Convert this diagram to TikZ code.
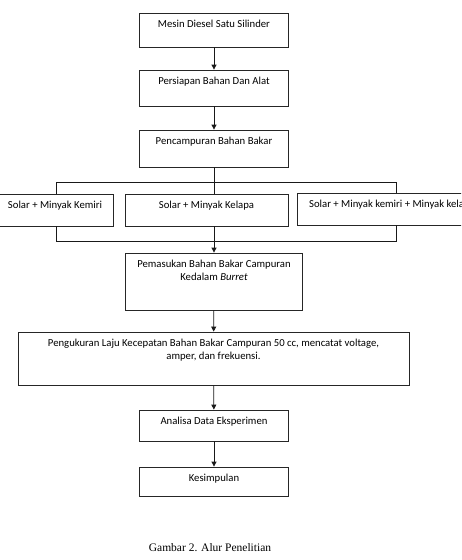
\documentclass[tikz,border=0pt]{standalone}
\usepackage{fontspec}
\setmainfont{Carlito}
\newfontfamily\capfont{Liberation Serif}
\usetikzlibrary{arrows.meta,positioning}

\tikzset{
  box/.style={draw=black!85,line width=0.8pt,rectangle,minimum height=#1,inner sep=0pt},
  txt/.style={font=\fontsize{10.7}{12.6}\selectfont,inner sep=0pt,align=center,anchor=north,yshift=-7.5pt},
  arr/.style={draw=black!90,line width=0.8pt,-{Triangle[length=5pt,width=5pt]}}
}

\begin{document}
\begin{tikzpicture}[x=1pt,y=-1pt]
      \useasboundingbox (0,0) rectangle (461,560);
      \clip (0,0) rectangle (461,560);

      \begin{scope}[every node/.style={}]
        \node[box=34,minimum width=149] (mesin) at (214,30) {};
        \node[box=36,minimum width=149] (persiapan) at (214,88) {};
        \node[box=37,minimum width=149] (pencampuran) at (214,148.5) {};
        \node[box=32,minimum width=116] (kemiri) at (55,210) {};
        \node[box=32,minimum width=163] (kelapa) at (206.5,210) {};
        \node[box=32,minimum width=190] (campur) at (392,209) {};
        \node[box=57,minimum width=177] (pemasukan) at (214,281.5) {};
        \node[box=53,minimum width=391] (pengukuran) at (213.5,358.5) {};
        \node[box=31,minimum width=149] (analisa) at (214,425.5) {};
        \node[box=29,minimum width=149] (kesimpulan) at (214,481.5) {};
      \end{scope}

      % texts in the boxes
      \node[txt] (mesin-t) at (mesin.north) {Mesin Diesel Satu Silinder};
      \node[txt] (persiapan-t) at (persiapan.north) {Persiapan Bahan Dan Alat};
      \node[txt] (pencampuran-t) at (pencampuran.north) {Pencampuran Bahan Bakar};
      \node[txt] (kemiri-t) at (kemiri.north) {Solar + Minyak Kemiri};
      \node[txt] (kelapa-t) at (kelapa.north) {Solar + Minyak Kelapa};
      \node[txt] (campur-t) at (campur.north) {Solar + Minyak kemiri + Minyak kelapa};
      \node[txt] (pemasukan-t) at (pemasukan.north) {Pemasukan Bahan Bakar Campuran\\Kedalam \textit{Burret}};
      \node[txt] (pengukuran-t) at (pengukuran.north) {Pengukuran Laju Kecepatan Bahan Bakar Campuran 50 cc, mencatat voltage,\\amper, dan frekuensi.};
      \node[txt] (analisa-t) at (analisa.north) {Analisa Data Eksperimen};
      \node[txt] (kesimpulan-t) at (kesimpulan.north) {Kesimpulan};

      \node[font=\capfont\fontsize{11.5}{13}\selectfont] (caption) at (210,548) {Gambar 2. Alur Penelitian};

      \coordinate (tl) at (56,182);
      \coordinate (tr) at (396,182);
      \coordinate (bl) at (56,241);
      \coordinate (br) at (396,241);

      \begin{scope}[every edge/.style={arr}]
        \path (mesin)      edge (persiapan);
        \path (persiapan)  edge (pencampuran);
        \path (pemasukan)  edge (pengukuran);
        \path (pengukuran) edge (analisa);
        \path (analisa)    edge (kesimpulan);
      \end{scope}

      \begin{scope}[draw=black!90,line width=0.8pt]
        \draw (pencampuran.south) -- (pencampuran.south |- kelapa.north);
        \draw (kemiri.north -| tl) -- (tl) -- (tr) -- (campur.north -| tr);
        \draw (kemiri.south -| bl) -- (bl) -- (br) -- (campur.south -| br);
        \draw[arr] (kelapa.south -| pemasukan.north) -- (pemasukan.north);
      \end{scope}

    \end{tikzpicture}
\end{document}
